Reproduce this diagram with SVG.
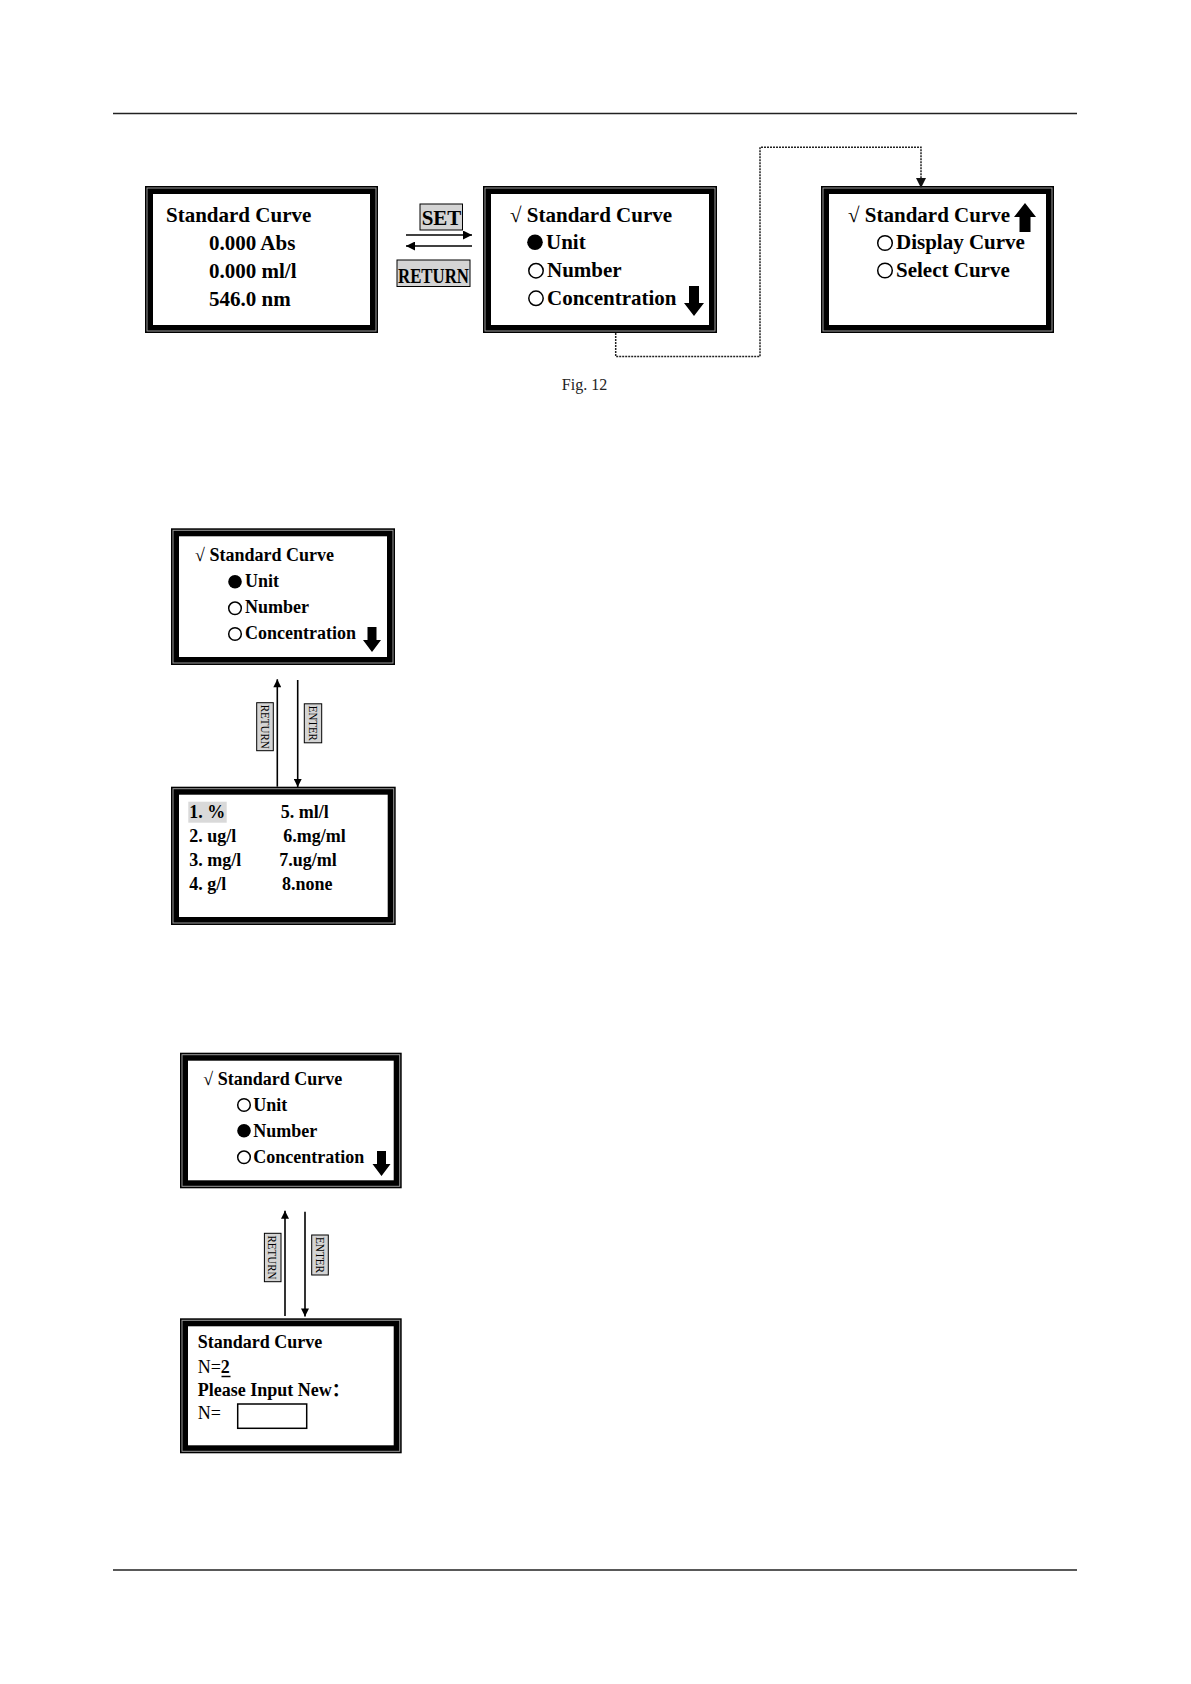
<svg xmlns="http://www.w3.org/2000/svg" width="1191" height="1684" viewBox="0 0 1191 1684">
<style>
  .frame{fill:#fff;stroke:#000;stroke-width:8}
  .gap{fill:none;stroke:#9a9a9a;stroke-width:1}
  .t21{font-family:"Liberation Serif","Times New Roman",serif;font-weight:bold;font-size:21px;fill:#000}
  .t18{font-family:"Liberation Serif","Times New Roman","Noto Sans CJK SC",serif;font-weight:bold;font-size:18px;fill:#000}
  .reg{font-weight:normal}
  .ring{fill:#fff;stroke:#000;stroke-width:1.5}
  .dot{fill:#000}
  .blk{fill:#000}
  .key{fill:#d4d4d4;stroke:#000;stroke-width:1}
  .vkey{font-family:"Liberation Serif","Times New Roman",serif;font-size:12px;fill:#000}
  .rule{stroke:#222;stroke-width:1.3}
  .line{fill:none;stroke:#000;stroke-width:1.6}
  .dotted{fill:none;stroke:#222;stroke-width:1.5;stroke-dasharray:2 1}
</style>
<defs>
  <marker id="ah" viewBox="0 0 10 10" refX="10" refY="5" markerWidth="11" markerHeight="9" markerUnits="userSpaceOnUse" orient="auto">
    <path d="M0,0 L10,5 L0,10 Z" fill="#000"/>
  </marker>
  <marker id="ahs" viewBox="0 0 10 10" refX="10" refY="5" markerWidth="10" markerHeight="8" markerUnits="userSpaceOnUse" orient="auto">
    <path d="M0,0 L10,5 L0,10 Z" fill="#000"/>
  </marker>
  <marker id="ahd" viewBox="0 0 10 10" refX="10" refY="5" markerWidth="11" markerHeight="10" markerUnits="userSpaceOnUse" orient="auto">
    <path d="M0,0 L10,5 L0,10 Z" fill="#111"/>
  </marker>
</defs>

<line class="rule" x1="113" y1="113.5" x2="1077" y2="113.5"/>
<line class="rule" x1="113" y1="1570" x2="1077" y2="1570"/>

<!-- Top row -->
<g id="screen-home">
  <rect class="frame" x="149" y="190" width="225" height="139"/>
  <rect class="gap" x="147" y="188" width="229" height="143"/>
  <text class="t21" x="166" y="222">Standard Curve</text>
  <text class="t21" x="209" y="250">0.000 Abs</text>
  <text class="t21" x="209" y="278">0.000 ml/l</text>
  <text class="t21" x="209" y="306">546.0 nm</text>
</g>

<g id="screen-menu">
  <rect class="frame" x="487" y="190" width="226" height="139"/>
  <rect class="gap" x="485" y="188" width="230" height="143"/>
  <text class="t21" x="510" y="222">√ Standard Curve</text>
  <circle class="dot" cx="535" cy="242.3" r="7.8"/>
  <text class="t21" x="546" y="249">Unit</text>
  <circle class="ring" cx="536" cy="270.7" r="7.2"/>
  <text class="t21" x="547" y="277">Number</text>
  <circle class="ring" cx="536" cy="298.3" r="7.2"/>
  <text class="t21" x="547" y="304.5">Concentration</text>
  <path class="blk" d="M689,286 H699 V303 H704 L694,316 L684,303 H689 Z"/>
</g>

<g id="screen-menu-page2">
  <rect class="frame" x="825" y="190" width="225" height="139"/>
  <rect class="gap" x="823" y="188" width="229" height="143"/>
  <text class="t21" x="848" y="222">√ Standard Curve</text>
  <path class="blk" d="M1025,203 L1036,217 H1030.5 V232 H1019.5 V217 H1014 Z"/>
  <circle class="ring" cx="885" cy="243" r="7.3"/>
  <text class="t21" x="896" y="249">Display Curve</text>
  <circle class="ring" cx="885" cy="270.5" r="7.3"/>
  <text class="t21" x="896" y="277">Select Curve</text>
</g>

<g id="key-set">
  <rect class="key" x="420" y="204" width="42.5" height="26"/>
  <text class="t21" x="441.5" y="225" text-anchor="middle">SET</text>
</g>
<g id="key-return">
  <rect class="key" x="397" y="260" width="73" height="26.5"/>
  <text class="t21" x="398" y="282.5" textLength="71" lengthAdjust="spacingAndGlyphs" style="font-size:20px">RETURN</text>
</g>

<text x="584.5" y="390" text-anchor="middle" style="font-family:'Liberation Serif','Times New Roman',serif;font-size:16px;fill:#222">Fig. 12</text>

<!-- Middle section -->
<g id="screen-unit-menu">
  <rect class="frame" x="175" y="532.3" width="216" height="128.7"/>
  <rect class="gap" x="173" y="530.3" width="220" height="132.7"/>
  <text class="t18" x="195" y="561">√ Standard Curve</text>
  <circle class="dot" cx="235" cy="581.7" r="6.8"/>
  <text class="t18" x="245" y="587">Unit</text>
  <circle class="ring" cx="235" cy="608.3" r="6.3"/>
  <text class="t18" x="245" y="613.3">Number</text>
  <circle class="ring" cx="235" cy="634" r="6.3"/>
  <text class="t18" x="245" y="639">Concentration</text>
  <path class="blk" d="M367.5,627 H376.5 V640 H381 L372,652 L363,640 H367.5 Z"/>
</g>

<g id="screen-unit-list">
  <rect class="frame" x="175" y="790.7" width="216.7" height="130.3"/>
  <rect class="gap" x="173" y="788.7" width="220.7" height="134.3"/>
  <rect x="188.3" y="801.7" width="38.4" height="21" fill="#d9d9d9"/>
  <text class="t18" x="189.3" y="818">1. %</text>
  <text class="t18" x="280.7" y="818">5. ml/l</text>
  <text class="t18" x="189.3" y="842">2. ug/l</text>
  <text class="t18" x="283.3" y="842">6.mg/ml</text>
  <text class="t18" x="189.3" y="866">3. mg/l</text>
  <text class="t18" x="279.3" y="866">7.ug/ml</text>
  <text class="t18" x="189.3" y="889.5">4. g/l</text>
  <text class="t18" x="282" y="889.5">8.none</text>
</g>

<!-- Bottom section -->
<g id="screen-number-menu">
  <rect class="frame" x="184" y="1056.7" width="213.7" height="127.6"/>
  <rect class="gap" x="182" y="1054.7" width="217.7" height="131.6"/>
  <text class="t18" x="203.3" y="1085">√ Standard Curve</text>
  <circle class="ring" cx="244" cy="1105" r="6.3"/>
  <text class="t18" x="253.3" y="1111">Unit</text>
  <circle class="dot" cx="244" cy="1130.7" r="6.8"/>
  <text class="t18" x="253.3" y="1137">Number</text>
  <circle class="ring" cx="244" cy="1157.3" r="6.3"/>
  <text class="t18" x="253.3" y="1162.5">Concentration</text>
  <path class="blk" d="M377,1151 H386 V1164 H390.5 L381.5,1176 L372.5,1164 H377 Z"/>
</g>

<g id="screen-number-input">
  <rect class="frame" x="184" y="1322.3" width="213.7" height="127"/>
  <rect class="gap" x="182" y="1320.3" width="217.7" height="131"/>
  <text class="t18" x="197.7" y="1348.3">Standard Curve</text>
  <text class="t18" x="197.7" y="1373.3"><tspan class="reg">N=</tspan><tspan>2</tspan></text>
  <line x1="221.5" y1="1376.5" x2="230.5" y2="1376.5" stroke="#000" stroke-width="1.5"/>
  <text class="t18" x="197.7" y="1395.5">Please Input New：</text>
  <text class="t18 reg" x="197.7" y="1418.5">N=</text>
  <rect x="237.7" y="1404" width="69" height="24.3" fill="#fff" stroke="#000" stroke-width="1.5"/>
</g>

<!-- Vertical key labels -->
<g id="key-return-1" transform="translate(265,726.7) rotate(90)">
  <rect class="key" x="-24" y="-8.3" width="48" height="16.6"/>
  <text class="vkey" x="0" y="4.3" text-anchor="middle" textLength="44" lengthAdjust="spacingAndGlyphs">RETURN</text>
</g>
<g id="key-enter-1" transform="translate(313,723.3) rotate(90)">
  <rect class="key" x="-19.5" y="-8.7" width="39" height="17.4"/>
  <text class="vkey" x="0" y="4.3" text-anchor="middle" textLength="35" lengthAdjust="spacingAndGlyphs">ENTER</text>
</g>
<g id="key-return-2" transform="translate(272.7,1257.5) rotate(90)">
  <rect class="key" x="-24.2" y="-8.3" width="48.4" height="16.6"/>
  <text class="vkey" x="0" y="4.3" text-anchor="middle" textLength="44" lengthAdjust="spacingAndGlyphs">RETURN</text>
</g>
<g id="key-enter-2" transform="translate(320,1255) rotate(90)">
  <rect class="key" x="-20" y="-8.3" width="40" height="16.6"/>
  <text class="vkey" x="0" y="4.3" text-anchor="middle" textLength="36" lengthAdjust="spacingAndGlyphs">ENTER</text>
</g>

<g id="connectors">
  <line class="line" x1="406" y1="235" x2="472" y2="235" marker-end="url(#ah)"/>
  <line class="line" x1="472" y1="246" x2="406" y2="246" marker-end="url(#ah)"/>
  <path class="dotted" d="M615.7,333 V356.5 H760 V147.3 H921 V188" marker-end="url(#ahd)"/>
  <line class="line" x1="277.3" y1="786.7" x2="277.3" y2="679.3" marker-end="url(#ahs)"/>
  <line class="line" x1="297.7" y1="680" x2="297.7" y2="787" marker-end="url(#ahs)"/>
  <line class="line" x1="285" y1="1316" x2="285" y2="1210.7" marker-end="url(#ahs)"/>
  <line class="line" x1="305" y1="1211.7" x2="305" y2="1316.5" marker-end="url(#ahs)"/>
</g>
</svg>
